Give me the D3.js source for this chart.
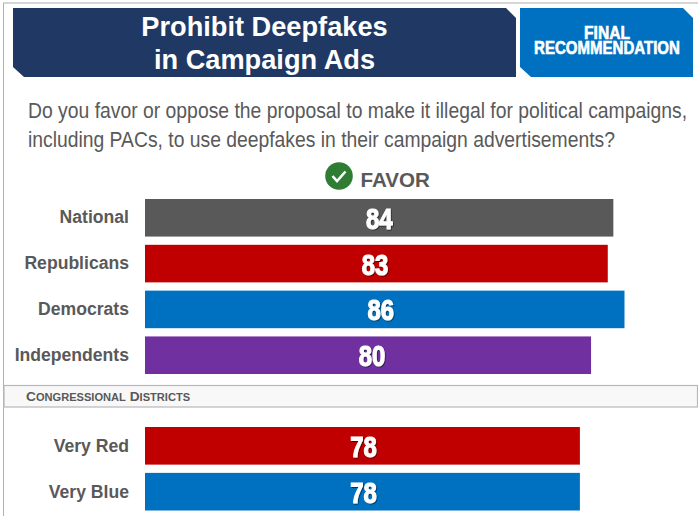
<!DOCTYPE html>
<html>
<head>
<meta charset="utf-8">
<script src="https://cdn.jsdelivr.net/npm/d3@7"></script>
<style>
html,body{margin:0;padding:0;background:#fff;}
svg{display:block;}
text{font-family:"Liberation Sans",Arial,sans-serif;}
</style>
</head>
<body>
<svg id="chart" width="698" height="516"></svg>
<script>
const titleLines = ["Prohibit Deepfakes", "in Campaign Ads"];
const badgeLines = ["FINAL", "RECOMMENDATION"];
const questionLines = [
  "Do you favor or oppose the proposal to make it illegal for political campaigns,",
  "including PACs, to use deepfakes in their campaign advertisements?"
];
const seriesName = "FAVOR";
const partyCategories = ["National", "Republicans", "Democrats", "Independents"];
const partyValues = [84, 83, 86, 80];
const partyColors = ["#595959", "#c00000", "#0070c0", "#7030a0"];
const districtCategories = ["Very Red", "Very Blue"];
const districtValues = [78, 78];
const districtColors = ["#c00000", "#0070c0"];
const sectionLabel = "Congressional Districts";

const svg = d3.select("#chart");
const defs = svg.append("defs");
const shadow = defs.append("filter").attr("id", "numShadow")
  .attr("x", "-20%").attr("y", "-20%").attr("width", "150%").attr("height", "150%");
shadow.append("feDropShadow").attr("dx", 1).attr("dy", 1).attr("stdDeviation", 0.7)
  .attr("flood-color", "#000").attr("flood-opacity", 0.55);

// Squeezes a text horizontally to a set width, anchored at (px, py)
function fitWidth(selection, px, py, width) {
  selection.each(function (d, i) {
    const natural = this.getComputedTextLength();
    const target = typeof width === "function" ? width(d, i) : width;
    const ax = typeof px === "function" ? px(d, i) : px;
    const ay = typeof py === "function" ? py(d, i) : py;
    d3.select(this).attr("transform", `translate(${ax},${ay}) scale(${target / natural},1)`);
  });
}

// Page frame: thin grey rules along the top and left edges
svg.append("line").attr("x1", 3).attr("x2", 698).attr("y1", 3).attr("y2", 3)
  .attr("stroke", "#c8c8c8").attr("stroke-width", 1.5);
svg.append("line").attr("x1", 3.5).attr("x2", 3.5).attr("y1", 3).attr("y2", 516)
  .attr("stroke", "#b0b0b0").attr("stroke-width", 1);

// Header banners with clipped corners
const poly = pts => d3.line()(pts) + "Z";
svg.append("path").attr("fill", "#1f3864")
  .attr("d", poly([[13, 8], [506, 8], [516, 18], [516, 77], [24, 77], [13, 67]]));
svg.append("path").attr("fill", "#0070c0")
  .attr("d", poly([[520, 8], [683, 8], [693, 18], [693, 77], [531, 77], [520, 67]]));

svg.append("g").selectAll("text").data(titleLines).join("text")
  .attr("x", 264.5).attr("y", (d, i) => 36 + i * 32.5)
  .attr("text-anchor", "middle").attr("fill", "#fff")
  .attr("font-size", 27.2).attr("font-weight", 700).text(d => d);

svg.append("g").selectAll("text").data(badgeLines).join("text")
  .attr("text-anchor", "middle").attr("fill", "#fff")
  .attr("stroke", "#fff").attr("stroke-width", 0.6)
  .attr("font-size", 17.5).attr("font-weight", 700)
  .text(d => d)
  .call(fitWidth, 607, (d, i) => 39 + i * 15, (d, i) => [46, 146][i]);

svg.append("g").selectAll("text").data(questionLines).join("text")
  .attr("fill", "#595959").attr("font-size", 21.6)
  .text(d => d)
  .call(fitWidth, 28, (d, i) => 118 + i * 29, (d, i) => [659, 587][i]);

// Series key: check mark badge and name
const key = svg.append("g");
key.append("circle").attr("cx", 339).attr("cy", 176).attr("r", 13.8).attr("fill", "#2e7d32");
key.append("path").attr("d", "M332.5 176l4.5 5l8.5 -9.5").attr("fill", "none")
  .attr("stroke", "#fff").attr("stroke-width", 2.6);
key.append("text").attr("x", 360.5).attr("y", 187)
  .attr("fill", "#595959").attr("font-size", 20.6).attr("font-weight", 700).text(seriesName);

// Shared value scale: both groups use the same baseline and unit width
const x = d3.scaleLinear().domain([0, 86]).range([145, 624.5]);

function drawGroup(categories, values, colors, labelNudge, rowLabelDrop, yStart, yEnd) {
  const y = d3.scaleBand().domain(categories).range([yStart, yEnd]).paddingInner(0.18).paddingOuter(0);
  const mid = d => y(d) + y.bandwidth() / 2;
  const rows = svg.append("g").selectAll("g").data(categories).join("g");
  rows.append("rect")
    .attr("x", x(0)).attr("y", d => y(d))
    .attr("width", (d, i) => x(values[i]) - x(0)).attr("height", y.bandwidth())
    .attr("fill", (d, i) => colors[i]);
  rows.append("text")
    .attr("x", 129).attr("y", d => mid(d) + rowLabelDrop)
    .attr("text-anchor", "end").attr("fill", "#595959")
    .attr("font-size", 17.6).attr("font-weight", 700).text(d => d);
  // Condensed, heavy value labels sitting near the middle of each bar
  rows.append("text")
    .attr("text-anchor", "middle").attr("fill", "#fff").attr("stroke", "#fff").attr("stroke-width", 1.2)
    .attr("filter", "url(#numShadow)")
    .attr("font-size", 30).attr("font-weight", 700)
    .text((d, i) => values[i])
    .each(function (d, i) {
      const sel = d3.select(this);
      fitWidth(sel, x(0) + (x(values[i]) - x(0)) / 2 + labelNudge[i], mid(d) + 11, 26.5);
    });
}

drawGroup(partyCategories, partyValues, partyColors, [0, -1.5, -4, 4], 5.5, 199, 374);

// Divider strip between the two groups
svg.append("rect").attr("x", 4).attr("y", 385.5).attr("width", 693.5).attr("height", 21.5)
  .attr("fill", "#f8f8f8").attr("stroke", "#b8b8b8").attr("stroke-width", 1.2);
const section = svg.append("text").attr("x", 26).attr("y", 400.5).attr("fill", "#595959")
  .attr("font-weight", 700);
sectionLabel.split(" ").forEach((word, i) => {
  section.append("tspan").attr("font-size", 13.7).text((i ? " " : "") + word[0]);
  section.append("tspan").attr("font-size", 11.1).text(word.slice(1).toUpperCase());
});

drawGroup(districtCategories, districtValues, districtColors, [1, 1], 6.5, 427, 510.5);
</script>
</body>
</html>
